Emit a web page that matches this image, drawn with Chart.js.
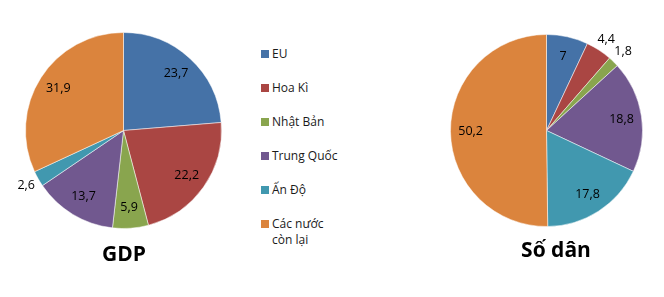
<!DOCTYPE html>
<html>
<head>
<meta charset="utf-8">
<script src="https://cdn.jsdelivr.net/npm/chart.js@4.4.0/dist/chart.umd.min.js"></script>
<style>
  body { margin: 0; background: #fff; width: 664px; height: 297px; overflow: hidden; position: relative; font-family: "Open Sans", sans-serif; }
  canvas { position: absolute; top: 0; }
  #gdp { left: 0; }
  #dan { left: 420px; }
  .title { position: absolute; font-weight: bold; font-size: 21px; color: #000; transform: translateX(-50%); white-space: nowrap; line-height: 1; }
  #legend { position: absolute; left: 261px; top: 46px; font-size: 12px; color: #1a1a1a; }
  #legend .item { position: relative; height: 34px; padding-left: 11px; line-height: 16px; }
  #legend .box { position: absolute; left: 0; top: 4px; width: 8px; height: 8px; }
</style>
</head>
<body>
<canvas id="gdp" width="250" height="297"></canvas>
<canvas id="dan" width="244" height="297"></canvas>
<div id="legend"></div>
<div class="title" style="left:124px; top:243px;">GDP</div>
<div class="title" style="left:556px; top:239px;">Số dân</div>
<script>
const categories = ["EU", "Hoa Kì", "Nhật Bản", "Trung Quốc", "Ấn Độ", "Các nước còn lại"];
const gdpValues = [23.7, 22.2, 5.9, 13.7, 2.6, 31.9];
const popValues = [7, 4.4, 1.8, 18.8, 17.8, 50.2];
const colors = ["#4572A7", "#AA4643", "#89A54E", "#71588F", "#4198AF", "#DB843D"];

const fmt = v => String(v).replace(".", ",");

// labels inside the slice, or just outside for the thin ones
const sliceLabels = {
  id: "sliceLabels",
  afterDatasetsDraw(chart) {
    const ctx = chart.ctx;
    const meta = chart.getDatasetMeta(0);
    const data = chart.data.datasets[0].data;
    ctx.save();
    ctx.font = "12.5px 'Open Sans'";
    ctx.fillStyle = "#000";
    ctx.textAlign = "center";
    ctx.textBaseline = "middle";
    meta.data.forEach((arc, i) => {
      const p = arc.getProps(["x", "y", "startAngle", "endAngle", "outerRadius"], true);
      const mid = (p.startAngle + p.endAngle) / 2;
      const dx = Math.cos(mid), dy = Math.sin(mid);
      const txt = fmt(data[i]);
      let d;
      if (data[i] < 5) {
        const w = ctx.measureText(txt).width / 2, h = 6.5;
        d = p.outerRadius + 3 + Math.abs(dx) * w + Math.abs(dy) * h;
      } else {
        d = p.outerRadius * 0.79;
      }
      ctx.fillText(txt, p.x + dx * d, p.y + dy * d);
    });
    ctx.restore();
  }
};

function makePie(id, values, padding) {
  return new Chart(document.getElementById(id), {
    type: "pie",
    data: {
      labels: categories,
      datasets: [{
        data: values,
        backgroundColor: colors,
        borderColor: "rgba(255,255,255,0.5)",
        borderWidth: 1
      }]
    },
    options: {
      responsive: false,
      animation: false,
      layout: { padding: padding },
      plugins: { legend: { display: false }, tooltip: { enabled: false } }
    },
    plugins: [sliceLabels]
  });
}

makePie("gdp", gdpValues, { left: 25, top: 32, right: 28, bottom: 68 });
makePie("dan", popValues, { left: 30, top: 34, right: 21, bottom: 70 });

const legend = document.getElementById("legend");
categories.forEach((c, i) => {
  const item = document.createElement("div");
  item.className = "item";
  const label = c === "Các nước còn lại" ? "Các nước<br>còn lại" : c;
  item.innerHTML = `<span class="box" style="background:${colors[i]}"></span>${label}`;
  legend.appendChild(item);
});
</script>
</body>
</html>
